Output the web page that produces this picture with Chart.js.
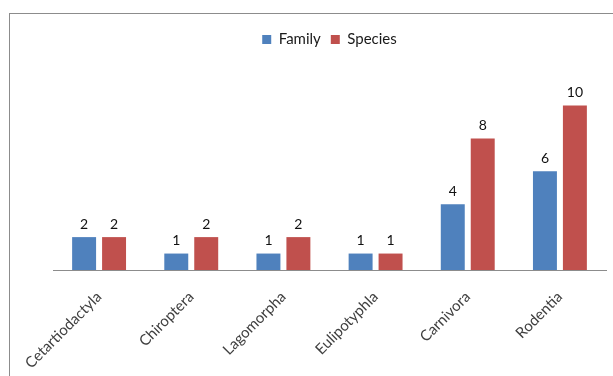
<!DOCTYPE html>
<html lang="en">
<head>
    <meta charset="UTF-8">
    <title>Family and Species per Order</title>
    <script src="https://cdn.jsdelivr.net/npm/chart.js@4.4.0/dist/chart.umd.min.js"></script>
    <style>
        * { margin: 0; padding: 0; box-sizing: border-box; }
        body { background: #ffffff; width: 613px; height: 376px; overflow: hidden; position: relative; }
        .frame {
            position: absolute;
            left: 9px;
            top: 13px;
            width: 700px;
            height: 500px;
            border-left: 1px solid #8c8c8c;
            border-top: 1px solid #8c8c8c;
        }
        .chart-box { position: absolute; left: 0; top: 0; width: 613px; height: 376px; }
    </style>
</head>
<body>
    <div class="frame"></div>
    <div class="chart-box">
        <canvas id="orderChart"></canvas>
    </div>

    <script>
        const orders = ['Cetartiodactyla', 'Chiroptera', 'Lagomorpha', 'Eulipotyphla', 'Carnivora', 'Rodentia'];
        const familyCounts = [2, 1, 1, 1, 4, 6];
        const speciesCounts = [2, 2, 2, 1, 8, 10];

        const fontName = 'Lato, "Open Sans", sans-serif';

        // numbers above each bar
        const barLabels = {
            id: 'barLabels',
            afterDatasetsDraw(chart) {
                const ctx = chart.ctx;
                ctx.save();
                ctx.font = '14px ' + fontName;
                ctx.fillStyle = '#111111';
                ctx.textAlign = 'center';
                ctx.textBaseline = 'bottom';
                chart.data.datasets.forEach((ds, i) => {
                    chart.getDatasetMeta(i).data.forEach((bar, j) => {
                        ctx.fillText(ds.data[j], bar.x, bar.y - 6);
                    });
                });
                ctx.restore();
            }
        };

        const ctx = document.getElementById('orderChart').getContext('2d');
        new Chart(ctx, {
            type: 'bar',
            data: {
                labels: orders,
                datasets: [
                    { label: 'Family', data: familyCounts, backgroundColor: '#4f81bd' },
                    { label: 'Species', data: speciesCounts, backgroundColor: '#c0504d' }
                ]
            },
            options: {
                responsive: true,
                maintainAspectRatio: false,
                animation: false,
                categoryPercentage: 0.65,
                barPercentage: 0.8,
                layout: { padding: { left: 53, right: 7, top: 22, bottom: 0 } },
                scales: {
                    x: {
                        grid: { display: false },
                        border: { display: true, color: '#8c8c8c', width: 1 },
                        ticks: {
                            minRotation: 45,
                            maxRotation: 45,
                            padding: 10,
                            color: '#404040',
                            font: { family: fontName, size: 15 }
                        },
                        afterFit(scale) { scale.height = 106; }
                    },
                    y: {
                        display: false,
                        min: 0,
                        max: 12.95
                    }
                },
                plugins: {
                    legend: {
                        position: 'top',
                        labels: {
                            boxWidth: 9,
                            boxHeight: 9,
                            padding: 10,
                            color: '#1a1a1a',
                            font: { family: fontName, size: 15 }
                        }
                    },
                    tooltip: { enabled: false }
                }
            },
            plugins: [barLabels]
        });
    </script>
</body>
</html>
